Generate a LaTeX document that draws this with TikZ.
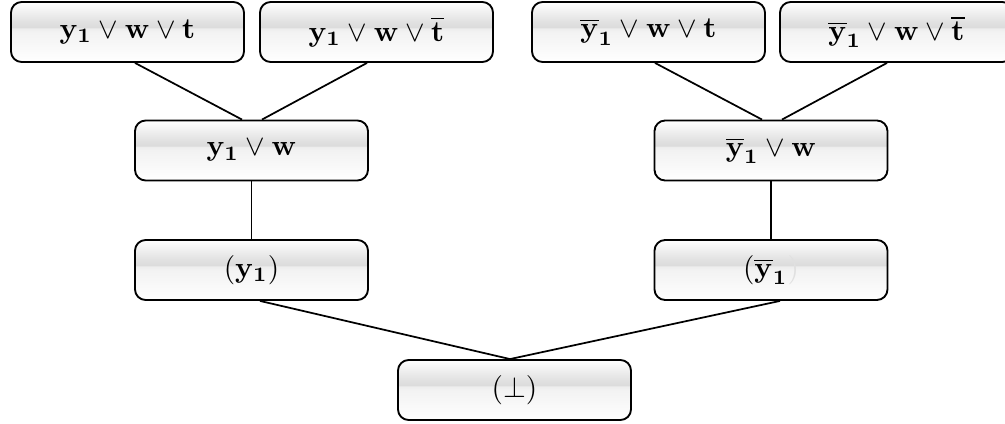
\documentclass[tikz,border=0pt]{standalone}
\usepackage{graphicx}
\usepackage{amsmath,amssymb}
\usetikzlibrary{calc}
\pgfdeclareverticalshading{glossy}{100bp}{color(0bp)=(white); color(25bp)=(white); color(50bp)=(black!5); color(53bp)=(black!7); color(54bp)=(black!14); color(58bp)=(black!12); color(75bp)=(white); color(100bp)=(white)}
\tikzset{
  box/.style={draw=black, line width=1.4pt, rounded corners=8pt,
    minimum width=174.75pt, minimum height=45pt, inner sep=0pt,
    shading=glossy},
  link/.style={draw=black, line width=1.3pt}
}
\newcommand{\yb}{\overline{\mathbf{y}}_{\mathbf{1}}}
\newcommand{\bigtxt}[1]{\scalebox{2.2}{#1}}
\begin{document}
\begin{tikzpicture}[x=0.75pt,y=-0.75pt]
\useasboundingbox (0,0) rectangle (1005,424);
\node[box] (t1) at (127.5,32) {\bigtxt{$\mathbf{y_1}\vee\mathbf{w}\vee\mathbf{t}$}};
\node[box] (t2) at (376.5,32) {\bigtxt{$\mathbf{y_1}\vee\mathbf{w}\vee\overline{\mathbf{t}}$}};
\node[box] (t3) at (648.5,32) {\bigtxt{$\yb\vee\mathbf{w}\vee\mathbf{t}$}};
\node[box] (t4) at (896.5,32) {\bigtxt{$\yb\vee\mathbf{w}\vee\overline{\mathbf{t}}$}};
\node[box] (m1) at (251.5,150.5) {\bigtxt{$\mathbf{y_1}\vee\mathbf{w}$}};
\node[box] (m2) at (771,150.5) {\bigtxt{$\yb\vee\mathbf{w}$}};
\node[box] (b1) at (251.5,270) {\bigtxt{$(\mathbf{y_1})$}};
\node[box] (b2) at (771,270) {\bigtxt{$(\yb$\textcolor{black!12}{$)$}}};
\node[box] (bot) at (514.5,390) {\bigtxt{$(\bot)$}};
\draw[link] ($(t1.south)+(7.5,0)$) -- ($(m1.north)+(-9.5,0)$);
\draw[link] ($(t2.south)+(-9.5,0)$) -- ($(m1.north)+(10.5,0)$);
\draw[link] ($(t3.south)+(6.5,0)$) -- ($(m2.north)+(-9,0)$);
\draw[link] ($(t4.south)+(-9.5,0)$) -- ($(m2.north)+(11,0)$);
\draw[link] (m1.south) -- (b1.north);
\draw[link] (m2.south) -- (b2.north);
\draw[link] ($(b1.south)+(8.5,0)$) -- ($(bot.north)+(-4.5,0)$);
\draw[link] ($(b2.south)+(9,0)$) -- ($(bot.north)+(-4.5,0)$);
\end{tikzpicture}
\end{document}
